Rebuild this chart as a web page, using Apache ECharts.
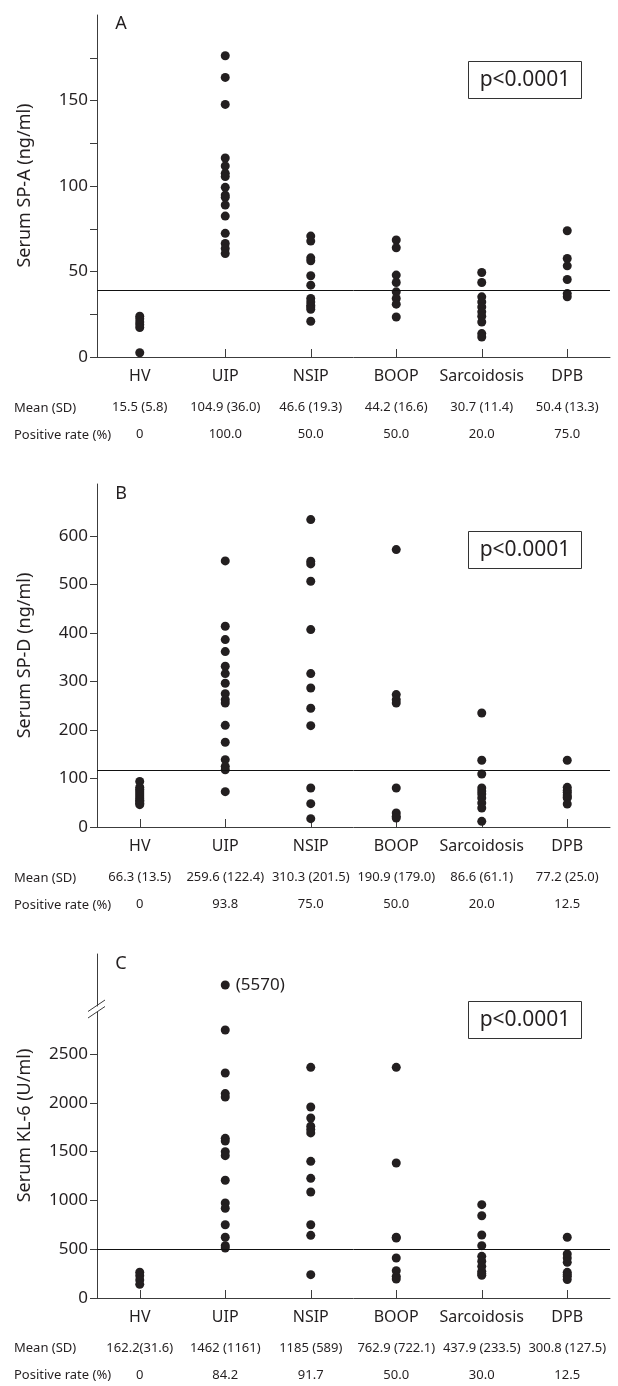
<!DOCTYPE html>
<html>
<head>
<meta charset="UTF-8">
<title>Serum SP-A, SP-D and KL-6</title>
<script src="https://cdn.jsdelivr.net/npm/echarts@6/dist/echarts.min.js"></script>
<style>
html, body { margin: 0; padding: 0; background: #fff; }
#main { width: 618px; height: 1386px; }
</style>
</head>
<body>
<div id="main"></div>
<script type="text/javascript">
var groups = ['HV', 'UIP', 'NSIP', 'BOOP', 'Sarcoidosis', 'DPB'];

// A: serum SP-A (ng/ml), one list per group
var spaValues = [
    [23.8, 22.3, 20.5, 18.9, 17.2, 2.5],
    [176.2, 163.5, 147.7, 116.4, 111.7, 107.4, 105.5, 99.2, 94.7, 93.4, 88.9, 82.4, 72.3, 66.4, 63.5, 60.5],
    [70.7, 67.8, 58.0, 56.3, 47.5, 42.0, 34.2, 32.2, 30.3, 29.3, 27.9, 20.9],
    [68.4, 63.9, 47.9, 43.6, 38.1, 34.2, 30.9, 23.4],
    [49.4, 43.6, 35.2, 32.2, 29.3, 26.4, 23.8, 20.5, 13.7, 11.7],
    [73.8, 57.6, 53.3, 45.3, 37.1, 35.2]
];
var spaCutoff = 39;
var spaMean = ['15.5 (5.8)', '104.9 (36.0)', '46.6 (19.3)', '44.2 (16.6)', '30.7 (11.4)', '50.4 (13.3)'];
var spaPositive = ['0', '100.0', '50.0', '50.0', '20.0', '75.0'];
var spaTicks = [0, 25, 50, 75, 100, 125, 150, 175];
var spaLabels = [0, 50, 100, 150];

// B: serum SP-D (ng/ml)
var spdValues = [
    [94, 82, 78, 74, 70, 66, 62, 58, 55, 52, 49, 46],
    [548.5, 413.7, 386.3, 361.5, 331.3, 316.2, 296.2, 274.9, 262.5, 255.7, 209.6, 174.6, 138.8, 125.1, 118, 72.9],
    [633.7, 547.8, 542.3, 506.5, 406.9, 316.2, 286.6, 244.7, 208.9, 80.4, 48.1, 17.2],
    [571.8, 272.9, 262.5, 255.7, 80.4, 28.9, 22, 18.6],
    [235, 137.5, 109.3, 80.4, 74, 68, 59.8, 49.5, 39.2, 11.7],
    [137.5, 81.8, 76, 71.5, 66, 62, 59.8, 47.4]
];
var spdCutoff = 116;
var spdMean = ['66.3 (13.5)', '259.6 (122.4)', '310.3 (201.5)', '190.9 (179.0)', '86.6 (61.1)', '77.2 (25.0)'];
var spdPositive = ['0', '93.8', '75.0', '50.0', '20.0', '12.5'];
var spdTicks = [0, 100, 200, 300, 400, 500, 600];

// C: serum KL-6 (U/ml); the 5570 value sits above the axis break
var kl6Values = [
    [265, 228, 185, 140],
    [2746, 2305, 2094, 2059, 1636, 1609, 1499, 1458, 1206, 973, 919, 751, 622, 536, 512],
    [2363, 1957, 1844, 1759, 1725, 1691, 1400, 1226, 1086, 751, 642, 239],
    [2363, 1383, 622, 615, 410, 280, 222, 195],
    [956, 843, 645, 536, 427, 376, 324, 273, 250, 232],
    [622, 451, 410, 365, 263, 240, 222, 190]
];
var kl6Outlier = ['UIP', 5570];
var kl6Cutoff = 500;
var kl6Mean = ['162.2(31.6)', '1462 (1161)', '1185 (589)', '762.9 (722.1)', '437.9 (233.5)', '300.8 (127.5)'];
var kl6Positive = ['0', '84.2', '91.7', '50.0', '30.0', '12.5'];
var kl6Ticks = [0, 500, 1000, 1500, 2000, 2500];

var ink = '#231f20';
var axisColor = '#3c3c3c';
var font = '"Noto Sans", sans-serif';

// axis tops of the three panels
var panelTop = [14, 484, 954];

function valueAxis(gridIndex, min, max, ticks, labels) {
    return {
        type: 'value', gridIndex: gridIndex, min: min, max: max,
        splitLine: { show: false },
        axisLine: { show: true, lineStyle: { color: axisColor, width: 1 } },
        axisTick: { show: ticks.length > 0, inside: false, length: 7, customValues: ticks, lineStyle: { color: axisColor } },
        axisLabel: {
            show: labels.length > 0, customValues: labels, margin: 9,
            color: ink, fontSize: 17, fontFamily: font,
            formatter: function (v) { return String(v); }
        }
    };
}

function groupAxis(gridIndex, show) {
    return {
        type: 'category', gridIndex: gridIndex, data: groups, show: show,
        axisLine: { show: true, lineStyle: { color: axisColor, width: 1 } },
        axisTick: { show: true, inside: true, length: 8, alignWithLabel: true, lineStyle: { color: axisColor } },
        axisLabel: { interval: 0, margin: 11, color: ink, fontSize: 16, fontFamily: font }
    };
}

function rowAxis(gridIndex, data, offset) {
    return {
        type: 'category', gridIndex: gridIndex, data: data, position: 'bottom', offset: offset,
        axisLine: { show: false }, axisTick: { show: false },
        axisLabel: { interval: 0, margin: 0, color: ink, fontSize: 13, fontFamily: font }
    };
}

function dotData(lists) {
    var out = [];
    for (var i = 0; i < lists.length; i++) {
        for (var j = 0; j < lists[i].length; j++) {
            out.push([groups[i], lists[i][j]]);
        }
    }
    return out;
}

function dotSeries(xi, yi, lists, cutoff) {
    return {
        type: 'scatter', xAxisIndex: xi, yAxisIndex: yi,
        symbol: 'circle', symbolSize: 9, itemStyle: { color: ink, opacity: 1 },
        data: dotData(lists), z: 3,
        markLine: {
            silent: true, symbol: 'none', label: { show: false },
            lineStyle: { color: '#111', width: 1, type: 'solid' },
            data: [{ yAxis: cutoff }]
        }
    };
}

var graphics = [];
var letters = ['A', 'B', 'C'];
var yNames = ['Serum SP-A (ng/ml)', 'Serum SP-D (ng/ml)', 'Serum KL-6 (U/ml)'];
var axisHeight = 343;
for (var k = 0; k < 3; k++) {
    var t = panelTop[k];
    graphics.push({
        type: 'text', x: 121, y: t + 10,
        style: { text: letters[k], fill: ink, fontSize: 18, fontFamily: font, textAlign: 'center', textVerticalAlign: 'middle', align: 'center', verticalAlign: 'middle' }
    });
    graphics.push({
        type: 'text', x: 25, y: t + axisHeight / 2, rotation: Math.PI / 2,
        style: { text: yNames[k], fill: ink, fontSize: 18, fontFamily: font, textAlign: 'center', textVerticalAlign: 'middle', align: 'center', verticalAlign: 'middle' }
    });
    graphics.push({
        type: 'rect', shape: { x: 468.5, y: t + 47.5, width: 113, height: 37 },
        style: { fill: 'none', stroke: '#333', lineWidth: 1 }
    });
    graphics.push({
        type: 'text', x: 525, y: t + 66,
        style: { text: 'p<0.0001', fill: ink, fontSize: 21, fontFamily: font, textAlign: 'center', textVerticalAlign: 'middle', align: 'center', verticalAlign: 'middle' }
    });
    graphics.push({
        type: 'text', x: 14, y: t + axisHeight + 51,
        style: { text: 'Mean (SD)', fill: ink, fontSize: 13, fontFamily: font, textAlign: 'left', textVerticalAlign: 'middle', align: 'left', verticalAlign: 'middle' }
    });
    graphics.push({
        type: 'text', x: 14, y: t + axisHeight + 78,
        style: { text: 'Positive rate (%)', fill: ink, fontSize: 13, fontFamily: font, textAlign: 'left', textVerticalAlign: 'middle', align: 'left', verticalAlign: 'middle' }
    });
}
// break marks on the KL-6 axis
graphics.push({ type: 'line', shape: { x1: 88, y1: 1011.5, x2: 105, y2: 1000 }, style: { stroke: axisColor, lineWidth: 1 } });
graphics.push({ type: 'line', shape: { x1: 88, y1: 1018, x2: 105, y2: 1006.5 }, style: { stroke: axisColor, lineWidth: 1 } });

var myChart = echarts.init(document.getElementById('main'), null, { renderer: 'canvas' });

var option = {
    animation: false,
    backgroundColor: '#fff',
    textStyle: { fontFamily: font, color: ink },
    grid: [
        { left: 97, top: 15, width: 513, height: 342, outerBoundsMode: 'none' },
        { left: 97, top: 484, width: 513, height: 343, outerBoundsMode: 'none' },
        { left: 97, top: 1012, width: 513, height: 286, outerBoundsMode: 'none' },
        { left: 97, top: 954, width: 513, height: 52, outerBoundsMode: 'none' }
    ],
    xAxis: [
        groupAxis(0, true), rowAxis(0, spaMean, 44), rowAxis(0, spaPositive, 71),
        groupAxis(1, true), rowAxis(1, spdMean, 44), rowAxis(1, spdPositive, 71),
        groupAxis(2, true), rowAxis(2, kl6Mean, 44), rowAxis(2, kl6Positive, 71),
        groupAxis(3, false)
    ],
    yAxis: [
        valueAxis(0, 0, 200, spaTicks, spaLabels),
        valueAxis(1, 0, 707, spdTicks, spdTicks),
        valueAxis(2, 0, 2930, kl6Ticks, kl6Ticks),
        valueAxis(3, 5400, 5820, [], [])
    ],
    series: [
        dotSeries(0, 0, spaValues, spaCutoff),
        dotSeries(3, 1, spdValues, spdCutoff),
        dotSeries(6, 2, kl6Values, kl6Cutoff),
        {
            type: 'scatter', xAxisIndex: 9, yAxisIndex: 3,
            symbol: 'circle', symbolSize: 9, itemStyle: { color: ink, opacity: 1 },
            data: [kl6Outlier], z: 3,
            label: {
                show: true, position: 'right', distance: 6,
                formatter: '(' + kl6Outlier[1] + ')',
                color: ink, fontSize: 17, fontFamily: font
            }
        }
    ],
    graphic: graphics
};

myChart.setOption(option);
</script>
</body>
</html>
